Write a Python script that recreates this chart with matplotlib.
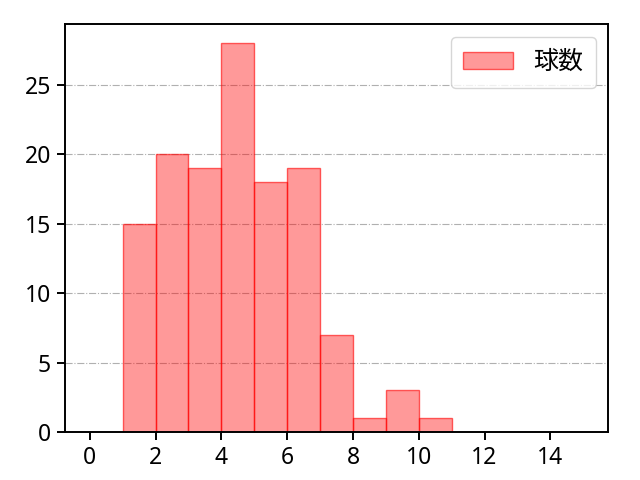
import matplotlib
matplotlib.use("Agg")
import matplotlib.pyplot as plt

plt.rcParams['font.family'] = ['Noto Sans CJK JP', 'DejaVu Sans']

bin_edges = [1, 2, 3, 4, 5, 6, 7, 8, 9, 10, 11]
counts = [15, 20, 19, 28, 18, 19, 7, 1, 3, 1]
label = "球数"

fig = plt.figure(figsize=(6.4, 4.8), dpi=100)
ax = fig.add_axes([0.1016, 0.1, 0.8484, 0.85])
ax.hist(bin_edges[:-1], bins=bin_edges, weights=counts, color=(1, 0, 0, 0.4),
        edgecolor=(1, 0, 0, 0.6), linewidth=1, label=label)
ax.set_xlim(-0.75, 15.75)
ax.set_xticks(range(0, 15, 2))
ax.yaxis.grid(True, linestyle='-.', color='#b0b0b0', linewidth=0.8)
ax.set_axisbelow(True)
for s in ax.spines.values():
    s.set_linewidth(1.4)
ax.tick_params(labelsize=16.5, width=1.4, length=5.5, pad=4.5)
for t in ax.get_xticklabels() + ax.get_yticklabels():
    t.set_fontfamily(['Noto Sans', 'DejaVu Sans'])
ax.legend(fontsize=18, loc='upper right', borderpad=0.5)
fig.savefig("out.png", dpi=100)
